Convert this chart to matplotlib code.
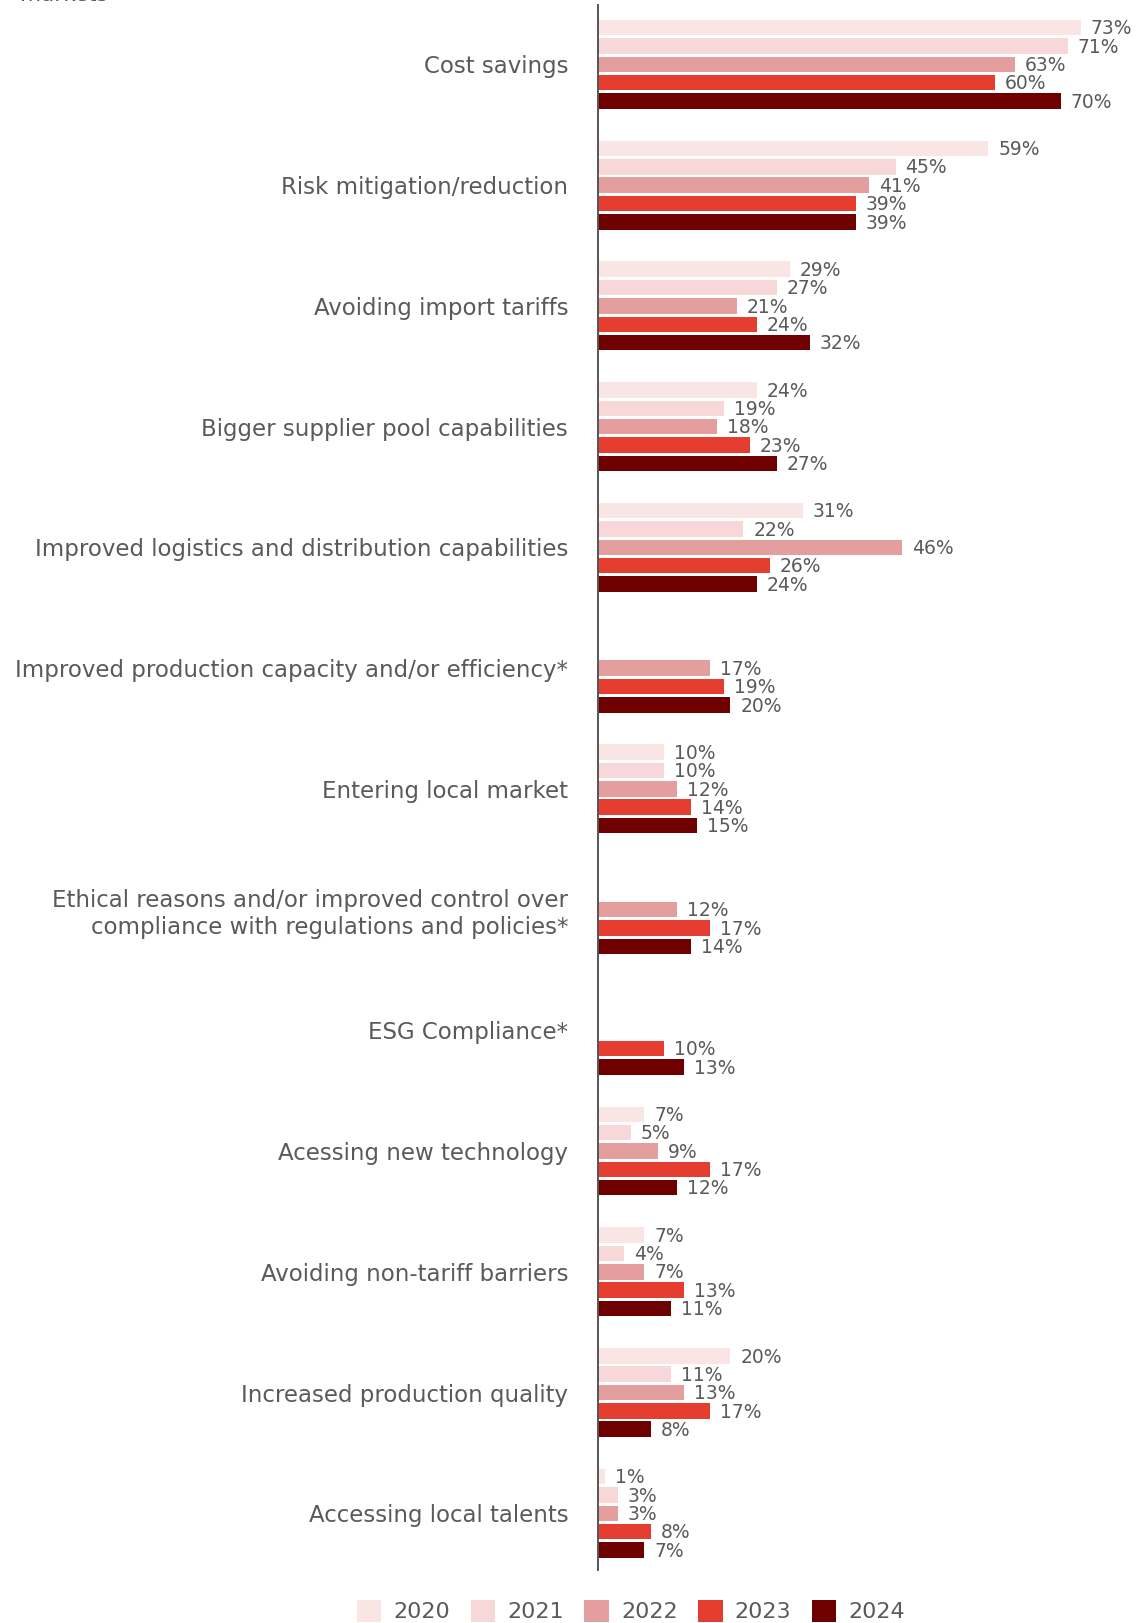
import numpy as np
import matplotlib
matplotlib.use("Agg")
import matplotlib.pyplot as plt
from matplotlib.patches import Patch

plt.rcParams['font.family'] = ['DejaVu Sans']

categories = [
    "Cost savings",
    "Risk mitigation/reduction",
    "Avoiding import tariffs",
    "Bigger supplier pool capabilities",
    "Improved logistics and distribution capabilities",
    "Improved production capacity and/or efficiency*",
    "Entering local market",
    "Ethical reasons and/or improved control over\ncompliance with regulations and policies*",
    "ESG Compliance*",
    "Acessing new technology",
    "Avoiding non-tariff barriers",
    "Increased production quality",
    "Accessing local talents",
]
years = ["2020", "2021", "2022", "2023", "2024"]
nan = np.nan
v2020 = [73, 59, 29, 24, 31, nan, 10, nan, nan, 7, 7, 20, 1]
v2021 = [71, 45, 27, 19, 22, nan, 10, nan, nan, 5, 4, 11, 3]
v2022 = [63, 41, 21, 18, 46, 17, 12, 12, nan, 9, 7, 13, 3]
v2023 = [60, 39, 24, 23, 26, 19, 14, 17, 10, 17, 13, 17, 8]
v2024 = [70, 39, 32, 27, 24, 20, 15, 14, 13, 12, 11, 8, 7]
series = [v2020, v2021, v2022, v2023, v2024]
colors = ["#F9E5E4", "#F8D7D9", "#E59E9E", "#E53D30", "#6E0000"]

text_color = "#5a5a5a"

fig = plt.figure(figsize=(11.37, 16.23), dpi=100)
ax = fig.add_axes([598 / 1137, 53 / 1623, 1 - 598 / 1137, 1565 / 1623])

y = np.arange(len(categories))
step = 0.152
bar_h = 0.128
for k, (vals, col) in enumerate(zip(series, colors)):
    pos = y + (k - 2) * step
    vals = np.array(vals, dtype=float)
    ax.barh(pos, vals, height=bar_h, color=col, left=0)
    for p, v in zip(pos, vals):
        if np.isnan(v):
            continue
        ax.text(v + 1.5, p + 0.01, f"{int(v)}%", va="center", ha="left",
                fontsize=13.5, color=text_color)

ax.set_xlim(0, 81.5)
ax.set_ylim(12.47, -0.492)
ax.set_yticks(y)
ax.set_yticklabels(categories, fontsize=16.5, color=text_color,
                   ha="right", multialignment="right")
ax.tick_params(axis="y", length=0, pad=21.5)
ax.set_xticks([])
for s in ["top", "right", "bottom"]:
    ax.spines[s].set_visible(False)
ax.spines["left"].set_color("#555555")
ax.spines["left"].set_linewidth(1.4)

fig.text(0.018, 1.003, "markets", fontsize=15.5, color=text_color,
         ha="left", va="center")

handles = [Patch(facecolor=c, edgecolor="none") for c in colors]
fig.legend(handles, years, loc="lower center", ncol=5, frameon=False,
           bbox_to_anchor=(631 / 1137, -0.012), fontsize=16,
           handlelength=1.1, handleheight=1.1, handletextpad=0.55,
           columnspacing=0.92, labelcolor=text_color)

fig.savefig("out.png", dpi=100)
